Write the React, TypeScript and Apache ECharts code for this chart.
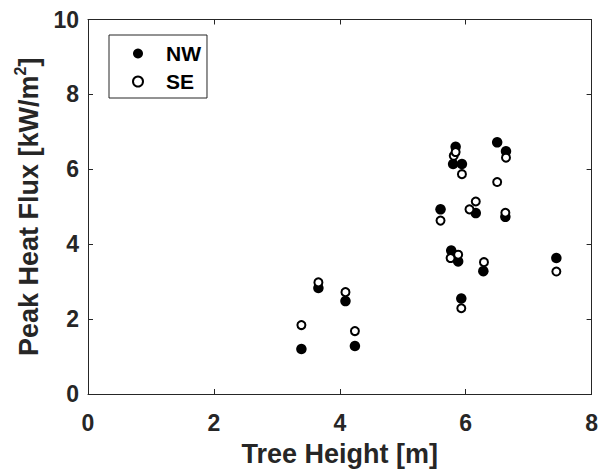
import React, { useEffect, useRef } from "react";
import * as echarts from "echarts";

const nwHeight = [3.39, 3.66, 4.09, 4.24, 5.60, 5.77, 5.80, 5.84, 5.88, 5.93, 5.94, 6.16, 6.28, 6.50, 6.64, 6.63, 7.44];
const nwFlux = [1.20, 2.83, 2.48, 1.28, 4.93, 3.83, 6.14, 6.60, 3.54, 2.55, 6.14, 4.83, 3.28, 6.72, 6.48, 4.73, 3.63];
const seHeight = [3.39, 3.66, 4.09, 4.24, 5.60, 5.76, 5.81, 5.84, 5.88, 5.93, 5.94, 6.06, 6.16, 6.29, 6.50, 6.64, 6.63, 7.44];
const seFlux = [1.84, 2.98, 2.72, 1.68, 4.63, 3.63, 6.36, 6.46, 3.72, 2.29, 5.87, 4.93, 5.14, 3.52, 5.66, 6.31, 4.84, 3.27];
const seriesNames = ["NW", "SE"];
const xTitle = "Tree Height [m]";

const FONT = "Liberation Sans, Arial, sans-serif";
const INK = "#262626";

export default function App() {
  const ref = useRef<HTMLDivElement>(null);
  useEffect(() => {
    if (!ref.current) return;
    const chart = echarts.init(ref.current, undefined, { renderer: "svg" });
    const axisCommon = {
      type: "value" as const,
      min: 0,
      interval: 2,
      splitLine: { show: false },
      axisLine: { show: true, onZero: false, lineStyle: { color: INK, width: 1 } },
      axisTick: { show: true, inside: true, length: 5, lineStyle: { color: INK, width: 1 } },
    };
    const labelStyle = { color: INK, fontFamily: FONT, fontWeight: "bold" as const, fontSize: 23 };
    chart.setOption({
      animation: false,
      backgroundColor: "#ffffff",
      grid: { left: 88, top: 19.5, right: 6, bottom: 74, containLabel: false },
      legend: {
        left: 109,
        top: 35,
        orient: "vertical",
        data: [
          { name: seriesNames[0], icon: "circle", itemStyle: { color: "#000", borderWidth: 0 } },
          { name: seriesNames[1], icon: "circle", itemStyle: { color: "#fff", borderColor: "#000", borderWidth: 2 } },
        ],
        backgroundColor: "#ffffff",
        borderColor: INK,
        borderWidth: 1,
        borderRadius: 0,
        padding: [8, 6, 6, 23],
        itemGap: 7,
        itemWidth: 10,
        itemHeight: 10,
        textStyle: {
          color: "#000",
          fontFamily: FONT,
          fontWeight: "bold",
          fontSize: 21,
          padding: [0, 0, 0, 18],
        },
      },
      xAxis: [
        {
          ...axisCommon,
          max: 8,
          position: "bottom",
          name: xTitle,
          nameLocation: "middle",
          nameGap: 46,
          nameTextStyle: { ...labelStyle, fontSize: 27 },
          axisLabel: { ...labelStyle, margin: 17 },
        },
        {
          ...axisCommon,
          max: 8,
          position: "top",
          axisLabel: { show: false },
        },
      ],
      yAxis: [
        {
          ...axisCommon,
          max: 10,
          position: "left",
          name: "{t|Peak Heat Flux [kW/m}{s|2}{t|]}",
          nameLocation: "middle",
          nameRotate: 90,
          nameGap: 42,
          nameTextStyle: {
            ...labelStyle,
            fontSize: 27,
            rich: {
              t: { ...labelStyle, fontSize: 27, lineHeight: 30, verticalAlign: "bottom" },
              s: { ...labelStyle, fontSize: 16, lineHeight: 18, verticalAlign: "top" },
            },
          },
          axisLabel: { ...labelStyle, margin: 9 },
        },
        {
          ...axisCommon,
          max: 10,
          position: "right",
          axisLabel: { show: false },
        },
      ],
      series: [
        {
          name: seriesNames[0],
          type: "scatter",
          xAxisIndex: 0,
          yAxisIndex: 0,
          symbol: "circle",
          symbolSize: 10.5,
          itemStyle: { color: "#000000", borderColor: "#000000", borderWidth: 0, opacity: 1 },
          data: nwHeight.map((h, i) => [h, nwFlux[i]]),
        },
        {
          name: seriesNames[1],
          type: "scatter",
          xAxisIndex: 0,
          yAxisIndex: 0,
          symbol: "circle",
          symbolSize: 8,
          itemStyle: { color: "#ffffff", borderColor: "#000000", borderWidth: 2, opacity: 1 },
          data: seHeight.map((h, i) => [h, seFlux[i]]),
        },
      ],
    });
    return () => chart.dispose();
  }, []);
  return (
    <div
      ref={ref}
      style={{ position: "fixed", left: 0, top: 0, width: 601, height: 472 }}
    />
  );
}
